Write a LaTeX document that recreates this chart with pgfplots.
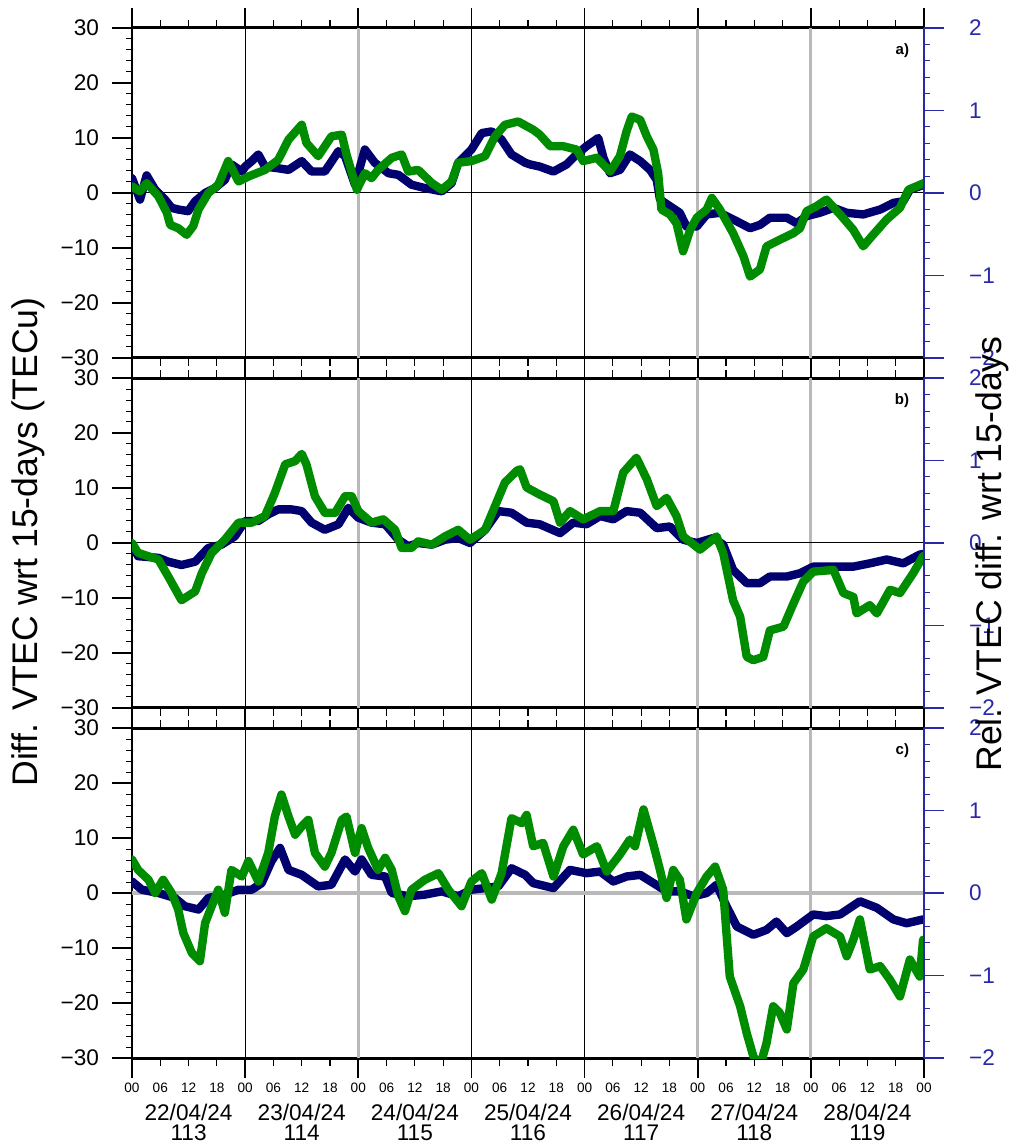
\documentclass[border=0pt]{standalone}
\usepackage{pgfplots}
\pgfplotsset{compat=1.18}
\usepackage{fontspec}
\setmainfont{Liberation Sans}
\definecolor{navyc}{RGB}{0,0,110}
\definecolor{greenc}{RGB}{0,140,0}
\definecolor{rblue}{RGB}{40,40,170}
\definecolor{gridgrey}{RGB}{185,185,185}
\pgfplotsset{
  panel/.style={
    scale only axis, width=396pt, height=165pt,
    xmin=0, xmax=168, ymin=-30, ymax=30,
    axis x line*=box, axis y line*=left,
    x axis line style={line width=1.5pt},
    y axis line style={line width=1pt},
    xtick={0,6,...,168},
    xticklabels={},
    ytick={-30,-20,...,30},
    yticklabels={−30,−20,−10,0,10,20,30},
    minor y tick num=4,
    tick align=outside,
    major tick length=10pt, minor tick length=3pt,
    xtick style={black, line width=0.6pt, /pgfplots/major tick length=4pt},
    ytick style={black, line width=0.6pt},
    minor y tick style={black, line width=0.5pt},
    extra x ticks={0,24,...,168}, extra x tick labels={},
    extra x tick style={xtick style={black, line width=0.8pt, /pgfplots/major tick length=10pt}},
    yticklabel style={font=\fontsize{11.3}{12}\selectfont, xshift=-3pt},
    xticklabel style={font=\fontsize{6.8}{7}\selectfont, yshift=1pt},
    clip mode=individual,
  },
  rpanel/.style={
    scale only axis, width=396pt, height=165pt,
    xmin=0, xmax=168, ymin=-2, ymax=2,
    axis x line=none, axis y line*=right,
    y axis line style={rblue, line width=1pt},
    ytick={-2,-1,...,2}, yticklabels={−2,−1,0,1,2},
    minor y tick num=4, tick align=outside,
    major tick length=10pt, minor tick length=3pt,
    ytick style={rblue, line width=0.6pt},
    minor y tick style={rblue, line width=0.5pt},
    yticklabel style={rblue, font=\fontsize{11.3}{12}\selectfont, xshift=9pt},
  },
  navyline/.style={navyc, line width=4.2pt, line join=round, line cap=round, no markers},
  greenline/.style={greenc, line width=4.2pt, line join=round, line cap=round, no markers},
}
\newcommand{\daygrid}[1]{%
  \draw[black, line width=0.5pt] (axis cs:24,-30) -- (axis cs:24,30);
  \draw[gridgrey, line width=1.6pt] (axis cs:48,-30) -- (axis cs:48,30);
  \draw[black, line width=0.5pt] (axis cs:72,-30) -- (axis cs:72,30);
  \draw[black, line width=0.5pt] (axis cs:96,-30) -- (axis cs:96,30);
  \draw[gridgrey, line width=1.6pt] (axis cs:120,-30) -- (axis cs:120,30);
  \draw[gridgrey, line width=1.6pt] (axis cs:144,-30) -- (axis cs:144,30);
}
\begin{document}
\begin{tikzpicture}
\useasboundingbox (-66pt,-558pt) rectangle (440pt,14pt);
% ---------------- panel a
\begin{axis}[panel, at={(0pt,0pt)}, anchor=north west]
\daygrid{}
\draw[black, line width=0.5pt] (axis cs:0,0) -- (axis cs:168,0);
\addplot[navyline] table {
0 2.7
1.7 -1.2
3.1 3.2
4.9 0.6
7.0 -1.2
8.4 -2.7
9.8 -3.0
11.9 -3.3
13.4 -1.5
15.5 0.0
17.6 0.9
19.7 2.4
21.1 5.2
23.3 3.9
24.0 4.8
25.4 5.8
26.8 7.0
28.2 4.8
31.0 4.5
33.2 4.2
36.0 5.8
38.1 3.9
40.9 3.9
43.8 7.6
45.2 6.7
47.3 1.5
49.4 7.9
51.5 5.5
54.4 3.6
56.5 3.3
59.3 1.5
62.1 0.9
65.7 0.3
67.8 1.8
69.2 5.5
72.0 7.9
74.2 10.9
76.3 11.2
78.4 9.7
80.5 7.0
83.4 5.5
84.4 5.2
86.5 4.8
89.4 3.9
92.2 5.2
94.3 7.0
96.4 8.5
98.9 10.0
100.0 6.4
101.4 3.6
103.5 4.2
105.6 7.0
107.8 5.8
109.9 4.2
111.3 2.4
112.0 -1.2
114.1 -2.4
116.2 -3.6
117.6 -6.1
119.8 -6.1
121.9 -3.9
124.7 -3.6
127.5 -4.8
131.1 -6.4
133.2 -5.8
135.3 -4.5
138.9 -4.5
141.0 -5.5
143.1 -4.2
145.9 -3.6
148.8 -2.7
151.6 -3.6
155.1 -3.9
158.7 -3.0
161.5 -1.8
163.6 -1.5
165.0 0.6
168 1.5
};
\addplot[greenline] table {
0 1.2
1.7 0.3
3.1 1.8
5.6 -0.6
7.4 -3.6
8.1 -5.8
9.8 -6.4
11.6 -7.6
13.0 -6.0
14.1 -3.0
16.2 0.0
18.3 1.5
20.4 5.8
22.6 2.1
24.7 3.0
28.2 4.2
31.0 6.0
33.2 9.7
36.0 12.4
37.0 9.1
39.5 6.7
42.3 10.3
44.5 10.6
45.5 7.0
47.7 0.6
49.4 3.6
50.8 2.7
52.2 4.2
55.1 6.4
57.2 7.0
58.6 3.9
60.7 4.2
63.6 1.8
65.7 0.6
67.8 2.1
69.2 5.5
72.0 5.8
74.9 6.7
77.0 10.3
79.1 12.4
81.9 13.0
85.1 11.5
86.5 10.6
88.7 8.5
91.5 8.5
94.3 7.9
95.7 5.8
98.6 6.4
101.4 3.9
103.5 6.7
104.9 11.2
106.0 13.9
107.8 13.3
109.2 10.3
110.6 7.9
111.6 3.6
112.3 -3.0
114.1 -3.9
115.5 -5.5
116.9 -10.6
118.4 -6.7
119.8 -4.5
121.9 -3.0
123.0 -0.9
124.7 -3.0
127.5 -7.3
129.7 -11.5
131.1 -15.2
133.2 -13.9
134.6 -9.7
137.4 -8.5
140.3 -7.3
141.7 -6.4
143.1 -3.3
145.2 -2.4
147.3 -1.2
150.2 -3.9
153.0 -6.7
155.1 -9.7
157.2 -7.6
160.1 -4.8
162.9 -2.7
164.7 0.6
168 1.8
};
\node[font=\bfseries\fontsize{7.5}{8}\selectfont, anchor=east] at (rel axis cs:0.99,0.93) {a)};
\end{axis}
\begin{axis}[rpanel, at={(0pt,0pt)}, anchor=north west]
\end{axis}
% ---------------- panel b
\begin{axis}[panel, at={(0pt,-175pt)}, anchor=north west]
\daygrid{}
\draw[black, line width=0.5pt] (axis cs:0,0) -- (axis cs:168,0);
\addplot[navyline] table {
0 -0.3
1.3 -2.4
5.6 -2.7
7.7 -3.4
10.5 -4.0
13.4 -3.4
16.2 -0.9
19.0 -0.3
21.8 1.2
24.0 4.0
26.8 4.0
28.9 5.2
31.0 6.1
33.9 6.1
36.0 5.8
38.1 3.7
40.9 2.4
43.8 3.4
45.9 6.4
48.0 4.6
50.8 3.7
53.7 3.4
56.5 0.6
58.6 -0.6
60.7 0.0
63.6 -0.3
66.4 0.6
69.2 0.9
71.7 0.0
74.9 2.4
77.7 5.8
80.5 5.5
83.7 3.7
86.5 3.4
90.8 1.8
93.6 3.7
96.4 3.4
99.3 4.9
102.1 4.3
104.9 5.8
107.8 5.5
111.3 2.7
114.1 3.0
116.9 0.6
119.8 0.0
123.3 0.9
125.4 -0.3
127.5 -4.9
130.4 -7.3
133.2 -7.3
135.3 -6.1
138.9 -6.1
141.7 -5.5
144.5 -4.3
148.8 -4.3
153.0 -4.3
156.5 -3.7
160.1 -3.0
163.6 -3.7
167.1 -2.1
168 -2.0
};
\addplot[greenline] table {
0 0.0
1.3 -1.8
5.6 -3.0
7.7 -6.1
10.5 -10.4
13.4 -8.8
14.8 -5.5
16.9 -1.8
19.7 0.6
22.6 3.7
25.4 3.7
28.2 4.9
30.3 9.1
32.5 14.3
34.6 14.9
36.0 16.2
37.0 14.3
38.8 8.5
40.9 5.5
43.1 5.5
45.2 8.5
46.6 8.5
48.0 5.8
50.8 3.7
53.3 4.3
55.8 2.4
57.2 -0.9
59.3 -0.9
60.7 0.3
63.6 -0.3
66.4 1.2
69.2 2.4
71.7 0.6
74.9 2.4
77.0 6.7
79.1 11.0
81.6 13.1
82.3 13.4
83.7 10.1
86.5 8.8
89.4 7.6
90.8 3.7
92.9 5.8
95.7 4.3
99.3 5.8
102.1 5.8
104.2 12.8
107.0 15.5
109.2 11.6
111.3 6.7
113.4 8.2
115.5 4.9
116.9 1.2
120.5 -1.2
124.0 1.2
125.4 -1.8
127.5 -10.4
129.0 -13.4
130.4 -20.7
131.8 -21.3
133.9 -20.7
135.3 -15.9
138.2 -15.2
140.3 -11.0
142.4 -7.0
144.5 -5.2
148.8 -4.9
150.9 -9.1
153.0 -9.8
153.7 -12.8
156.5 -11.3
158.0 -12.8
160.8 -8.5
162.9 -9.1
165.7 -5.5
167.8 -2.4
};
\node[font=\bfseries\fontsize{7.5}{8}\selectfont, anchor=east] at (rel axis cs:0.99,0.93) {b)};
\end{axis}
\begin{axis}[rpanel, at={(0pt,-175pt)}, anchor=north west]
\end{axis}
% ---------------- panel c
\begin{axis}[panel, at={(0pt,-350pt)}, anchor=north west,
  xticklabels={00,06,12,18,00,06,12,18,00,06,12,18,00,06,12,18,00,06,12,18,00,06,12,18,00,06,12,18,00}]
\daygrid{}
\draw[gridgrey, line width=1.6pt] (axis cs:0,0) -- (axis cs:168,0);
\addplot[navyline] table {
0 2.1
2.1 0.6
5.6 0.0
9.1 -0.9
11.2 -2.4
14.1 -3.0
16.2 -0.9
19.7 -0.3
22.6 0.6
25.4 0.6
27.5 1.8
29.6 5.8
31.4 8.2
33.2 4.2
36.0 3.3
39.5 1.2
42.3 1.5
45.2 6.1
47.3 3.9
48.7 6.1
50.8 3.3
53.7 3.0
55.1 0.0
58.6 -0.6
62.1 -0.3
65.7 0.3
69.2 -0.6
72.0 0.6
74.9 0.9
77.7 1.2
80.5 4.5
83.4 3.3
85.1 1.8
89.4 0.9
92.9 4.2
96.4 3.6
99.3 3.9
102.1 2.1
104.9 3.0
107.8 3.3
110.6 1.8
113.4 0.3
116.2 0.3
119.1 -0.6
121.9 0.0
124.0 1.5
126.1 -2.4
128.3 -6.1
131.8 -7.6
134.6 -6.7
136.7 -5.2
138.9 -7.3
141.0 -6.1
144.5 -3.9
147.3 -4.2
150.2 -3.9
154.4 -1.5
158.0 -2.7
161.5 -4.8
164.3 -5.5
167.8 -4.8
};
\addplot[greenline] table {
0 6.1
1.3 4.2
3.5 2.4
4.9 0.0
6.6 2.4
8.4 0.0
9.8 -3.0
10.9 -7.3
12.7 -10.9
14.4 -12.4
15.5 -5.5
16.9 -2.4
18.3 0.6
19.7 -3.6
21.1 4.2
23.3 3.0
24.7 5.8
26.8 2.1
28.9 7.3
30.3 13.9
31.7 17.9
33.2 13.9
34.6 10.6
36.0 12.1
37.4 13.3
38.8 7.3
40.9 4.8
42.3 7.3
44.5 13.3
45.5 13.9
47.3 7.3
48.7 11.8
50.1 8.2
52.2 4.2
53.7 6.4
55.1 4.2
56.5 -0.6
57.9 -3.3
59.3 0.6
62.1 2.4
65.0 3.6
67.1 0.6
69.9 -2.4
72.0 2.1
74.2 3.6
76.3 -1.2
78.4 3.6
80.5 13.6
82.7 12.7
83.7 14.2
85.1 8.5
87.2 9.1
89.4 3.0
91.5 8.5
93.6 11.5
95.7 7.0
98.6 8.5
100.7 3.9
103.5 7.0
105.6 9.7
106.7 8.5
108.5 15.2
110.6 8.8
112.0 4.2
113.4 -0.9
114.8 4.2
116.2 2.4
117.6 -4.8
119.8 0.0
121.9 3.0
123.7 4.8
125.4 0.6
126.8 -15.2
129.0 -20.6
130.4 -25.5
131.8 -29.7
133.2 -31.5
134.6 -27.3
136.0 -20.6
137.4 -21.8
138.9 -24.8
140.3 -16.4
142.4 -13.9
144.5 -7.9
147.3 -6.4
150.2 -7.9
151.6 -11.5
153.0 -8.5
154.4 -4.8
156.5 -13.9
158.7 -13.3
160.8 -15.8
162.9 -18.8
165.0 -12.1
167.1 -15.2
167.8 -8.5
};
\node[font=\bfseries\fontsize{7.5}{8}\selectfont, anchor=east] at (rel axis cs:0.99,0.93) {c)};
\end{axis}
\begin{axis}[rpanel, at={(0pt,-350pt)}, anchor=north west]
\end{axis}
% ---------------- labels
\node[rotate=90, font=\fontsize{17.8}{19}\selectfont] at (-52pt,-257pt) {Diff. VTEC wrt 15-days (TECu)};
\node[rotate=90, font=\fontsize{17.8}{19}\selectfont] at (430pt,-263pt) {Rel. VTEC diff. wrt 15-days};
\foreach \d/\n [count=\k from 0] in {22/113,23/114,24/115,25/116,26/117,27/118,28/119}{
  \node[font=\fontsize{11.3}{12}\selectfont] at ({28.29pt+56.57pt*\k},-542pt) {\d/04/24};
  \node[font=\fontsize{11.3}{12}\selectfont] at ({28.29pt+56.57pt*\k},-552.5pt) {\n};
}
\end{tikzpicture}
\end{document}
